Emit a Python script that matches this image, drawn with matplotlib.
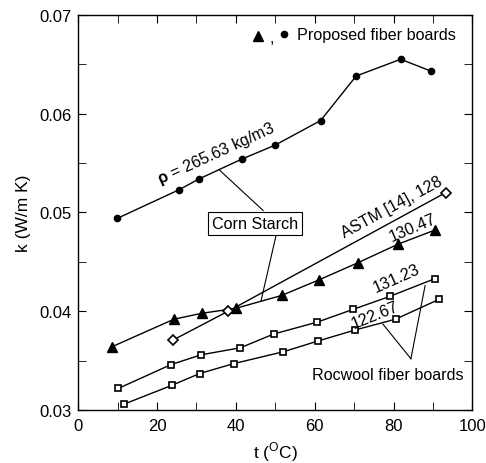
import matplotlib
matplotlib.use("Agg")
import matplotlib.pyplot as plt

plt.rcParams['font.family'] = ['Liberation Sans', 'DejaVu Sans']
plt.rcParams['mathtext.fontset'] = 'custom'
plt.rcParams['mathtext.rm'] = 'Liberation Sans'
plt.rcParams['mathtext.bf'] = 'Liberation Sans:bold'

# Corn starch fiber board, rho = 265.63 kg/m3 (circles)
t_corn265 = [9.9, 25.6, 30.7, 41.5, 49.9, 61.5, 70.5, 81.8, 89.5]
k_corn265 = [0.0494, 0.0523, 0.0534, 0.0554, 0.0568, 0.0593, 0.0638, 0.0655, 0.0643]

# Corn starch fiber board, 130.47 (triangles)
t_corn130 = [8.5, 24.3, 31.4, 40.0, 51.6, 61.2, 70.9, 81.2, 90.4]
k_corn130 = [0.0364, 0.0392, 0.0398, 0.0403, 0.0416, 0.0432, 0.0449, 0.0468, 0.0482]

# ASTM [14], 128 (diamonds)
t_astm = [24.1, 38.0, 93.2]
k_astm = [0.0371, 0.0400, 0.0520]

# Rocwool 131.23 (squares)
t_roc131 = [10.2, 23.5, 31.2, 41.1, 49.6, 60.6, 69.8, 79.0, 90.5]
k_roc131 = [0.0322, 0.0346, 0.0356, 0.0363, 0.0377, 0.0389, 0.0402, 0.0415, 0.0433]

# Rocwool 122.67 (squares)
t_roc122 = [11.6, 23.7, 30.8, 39.4, 52.0, 60.9, 70.2, 80.5, 91.5]
k_roc122 = [0.0306, 0.0325, 0.0337, 0.0347, 0.0359, 0.0370, 0.0381, 0.0392, 0.0412]

x_ticks = [0, 20, 40, 60, 80, 100]
y_ticks = [0.03, 0.04, 0.05, 0.06, 0.07]
y_ticklabels = ['0.03', '0.04', '0.05', '0.06', '0.07']

fig = plt.figure(figsize=(4.86, 4.64), dpi=100)
ax = fig.add_axes([0.161, 0.114, 0.811, 0.852])

ax.plot(t_corn265, k_corn265, '-o', color='black', lw=1, ms=4.5)
ax.plot(t_corn130, k_corn130, '-^', color='black', lw=1, ms=7.5)
ax.plot(t_astm, k_astm, '-D', color='black', mfc='white', mew=1.2, lw=1, ms=5)
ax.plot(t_roc131, k_roc131, '-s', color='black', mfc='white', mew=1.2, lw=1, ms=5)
ax.plot(t_roc122, k_roc122, '-s', color='black', mfc='white', mew=1.2, lw=1, ms=5)

ax.set_xlim(0, 100)
ax.set_ylim(0.03, 0.07)
ax.set_xticks(x_ticks)
ax.set_yticks(y_ticks)
ax.set_yticklabels(y_ticklabels)
ax.set_xticks(range(0, 101, 10), minor=True)
ax.set_yticks([0.035, 0.045, 0.055, 0.065], minor=True)
ax.tick_params(which='both', direction='in', top=True, right=True, labelsize=12)
ax.tick_params(which='both', length=6)
ax.tick_params(axis='x', pad=6)
ax.tick_params(axis='y', pad=4.5)
for s in ax.spines.values():
    s.set_linewidth(1.0)
ax.set_xlabel('t ($^{\\mathrm{O}}$C)', fontsize=12.5, labelpad=4)
ax.set_ylabel('k (W/m K)', fontsize=12.5, labelpad=6)

fs = 11.6
# top legend-like annotation
ax.plot([45.7], [0.0679], '^', color='black', ms=7.5)
ax.text(49.2, 0.0677, ',', fontsize=fs, ha='center', va='center')
ax.plot([52.2], [0.0681], 'o', color='black', ms=4.5)
ax.text(55.5, 0.0680, 'Proposed fiber boards', fontsize=fs, ha='left', va='center')

# rho label
ax.text(34.9, 0.0560, r'$\mathbf{\rho}$ = 265.63 kg/m3', fontsize=fs, rotation=24.5,
        ha='center', va='center', rotation_mode='anchor')

# Corn Starch box with leader lines
ax.plot([46.9, 35.8], [0.0502, 0.0543], color='black', lw=0.8)
ax.plot([50.2, 46.4], [0.0477, 0.0411], color='black', lw=0.8)
ax.text(44.8, 0.0489, 'Corn Starch', fontsize=fs, ha='center', va='center',
        bbox=dict(boxstyle='square,pad=0.25', fc='white', ec='black', lw=0.8))

ax.text(79.6, 0.0506, 'ASTM [14], 128', fontsize=fs, rotation=28.5,
        ha='center', va='center', rotation_mode='anchor')
ax.text(85.0, 0.0485, '130.47', fontsize=fs, rotation=23,
        ha='center', va='center', rotation_mode='anchor')
ax.text(80.8, 0.0434, '131.23', fontsize=fs, rotation=24,
        ha='center', va='center', rotation_mode='anchor')
ax.text(75.3, 0.0397, '122.67', fontsize=fs, rotation=22,
        ha='center', va='center', rotation_mode='anchor')

# Rocwool label with leader lines
ax.plot([84.4, 77.3], [0.0352, 0.0387], color='black', lw=0.8)
ax.plot([84.4, 88.0], [0.0352, 0.0426], color='black', lw=0.8)
ax.text(97.7, 0.03365, 'Rocwool fiber boards', fontsize=fs, ha='right', va='center')

fig.savefig('out.png', dpi=100)
